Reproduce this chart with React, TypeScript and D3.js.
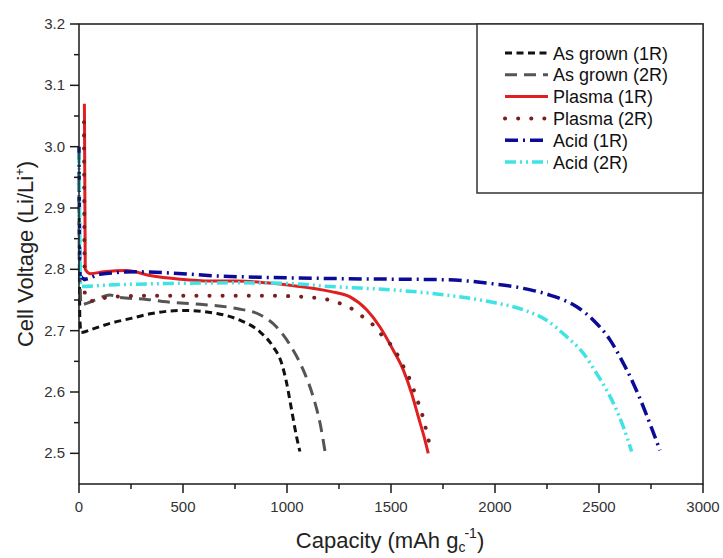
import React from "react";
import * as d3 from "d3";

const W = 723;
const H = 558;
const M = { left: 79, right: 703, top: 24, bottom: 484 };

const xTicks = [0, 500, 1000, 1500, 2000, 2500, 3000];
const xMinor = [250, 750, 1250, 1750, 2250, 2750];
const yTicks = [2.5, 2.6, 2.7, 2.8, 2.9, 3.0, 3.1, 3.2];
const yMinor = [2.55, 2.65, 2.75, 2.85, 2.95, 3.05, 3.15];

const asGrown1RCap = [0, 4, 10, 60, 150, 250, 350, 500, 663, 774, 870, 933, 974, 998, 1022, 1046, 1062];
const asGrown1RV = [2.94, 2.72, 2.697, 2.702, 2.712, 2.72, 2.728, 2.733, 2.728, 2.717, 2.698, 2.674, 2.647, 2.615, 2.571, 2.527, 2.503];

const asGrown2RCap = [2, 10, 40, 90, 149, 197, 325, 421, 582, 758, 870, 950, 1014, 1078, 1126, 1159, 1183];
const asGrown2RV = [2.83, 2.742, 2.745, 2.752, 2.758, 2.754, 2.751, 2.747, 2.743, 2.736, 2.726, 2.706, 2.677, 2.636, 2.592, 2.549, 2.503];

const plasma1RCap = [26, 30, 53, 120, 229, 341, 486, 630, 758, 900, 1014, 1207, 1303, 1383, 1447, 1511, 1559, 1599, 1631, 1663, 1679];
const plasma1RV = [3.07, 2.8, 2.793, 2.796, 2.798, 2.79, 2.784, 2.781, 2.781, 2.778, 2.774, 2.764, 2.755, 2.734, 2.706, 2.668, 2.636, 2.598, 2.56, 2.522, 2.5];

const plasma2RCap = [24, 28, 50, 150, 341, 600, 900, 1159, 1231, 1295, 1359, 1415, 1463, 1519, 1551, 1591, 1623, 1652, 1675, 1682];
const plasma2RV = [3.04, 2.76, 2.748, 2.755, 2.757, 2.757, 2.757, 2.753, 2.747, 2.739, 2.724, 2.709, 2.69, 2.668, 2.647, 2.62, 2.59, 2.561, 2.53, 2.52];

const acid1RCap = [0, 5, 29, 100, 277, 437, 678, 886, 1207, 1500, 1768, 1976, 2136, 2264, 2393, 2473, 2553, 2609, 2665, 2713, 2753, 2793];
const acid1RV = [3.0, 2.79, 2.784, 2.792, 2.796, 2.794, 2.789, 2.787, 2.785, 2.784, 2.783, 2.777, 2.769, 2.758, 2.739, 2.717, 2.685, 2.652, 2.614, 2.576, 2.541, 2.505];

const acid2RCap = [0, 8, 117, 437, 758, 1000, 1207, 1527, 1768, 1976, 2136, 2248, 2345, 2425, 2489, 2537, 2577, 2617, 2657];
const acid2RV = [2.99, 2.772, 2.774, 2.777, 2.778, 2.777, 2.772, 2.766, 2.758, 2.747, 2.734, 2.717, 2.69, 2.663, 2.63, 2.603, 2.576, 2.543, 2.503];

const seriesNames = ["As grown (1R)", "As grown (2R)", "Plasma (1R)", "Plasma (2R)", "Acid (1R)", "Acid (2R)"];

type Style = { color: string; width: number; dash: string; cap: "butt" | "round" };

const styles: Style[] = [
  { color: "#111111", width: 3, dash: "7,4.5", cap: "butt" },
  { color: "#555555", width: 3, dash: "12,7", cap: "butt" },
  { color: "#e02020", width: 3, dash: "", cap: "butt" },
  { color: "#7a1e1e", width: 4, dash: "0.1,13", cap: "round" },
  { color: "#0b0b98", width: 3.5, dash: "13,5,2,5", cap: "butt" },
  { color: "#3fe3e3", width: 3.5, dash: "11,4,2,4,2,4", cap: "butt" },
];

const seriesData: [number[], number[]][] = [
  [asGrown1RCap, asGrown1RV],
  [asGrown2RCap, asGrown2RV],
  [plasma1RCap, plasma1RV],
  [plasma2RCap, plasma2RV],
  [acid1RCap, acid1RV],
  [acid2RCap, acid2RV],
];

const FONT = "'Liberation Sans', Arial, Helvetica, sans-serif";

export default function App() {
  const x = d3.scaleLinear().domain([0, 3000]).range([M.left, M.right]);
  const y = d3.scaleLinear().domain([2.45, 3.2]).range([M.bottom, M.top]);
  const line = d3
    .line<[number, number]>()
    .x((d) => x(d[0]))
    .y((d) => y(d[1]))
    .curve(d3.curveMonotoneX);

  const legendX0 = 505;
  const legendX1 = 548;
  const legendY0 = 53;
  const legendStep = 21.8;

  return (
    <svg
      width={W}
      height={H}
      style={{ position: "absolute", left: 0, top: 0, background: "#fff" }}
      fontFamily={FONT}
    >
      <rect x={0} y={0} width={W} height={H} fill="#fff" />
      {/* curves */}
      {seriesData.map(([cs, vs], i) => {
        const pts = cs.map((c, j) => [c, vs[j]] as [number, number]);
        const s = styles[i];
        return (
          <path
            key={i}
            d={line(pts) || ""}
            fill="none"
            stroke={s.color}
            strokeWidth={s.width}
            strokeDasharray={s.dash || undefined}
            strokeLinecap={s.cap}
            strokeLinejoin="round"
          />
        );
      })}
      {/* frame */}
      <rect
        x={M.left}
        y={M.top}
        width={M.right - M.left}
        height={M.bottom - M.top}
        fill="none"
        stroke="#1a1a1a"
        strokeWidth={1.5}
      />
      {/* x ticks */}
      {xTicks.map((t) => (
        <g key={"xt" + t}>
          <line x1={x(t)} x2={x(t)} y1={M.bottom} y2={M.bottom + 9} stroke="#1a1a1a" strokeWidth={1.5} />
          <text x={x(t)} y={M.bottom + 28} textAnchor="middle" fontSize={15} fill="#333">
            {t}
          </text>
        </g>
      ))}
      {xMinor.map((t) => (
        <line key={"xm" + t} x1={x(t)} x2={x(t)} y1={M.bottom} y2={M.bottom + 5} stroke="#1a1a1a" strokeWidth={1.5} />
      ))}
      {/* y ticks */}
      {yTicks.map((t) => (
        <g key={"yt" + t}>
          <line x1={M.left - 9} x2={M.left} y1={y(t)} y2={y(t)} stroke="#1a1a1a" strokeWidth={1.5} />
          <text x={M.left - 14} y={y(t) + 5} textAnchor="end" fontSize={15} fill="#333">
            {t.toFixed(1)}
          </text>
        </g>
      ))}
      {yMinor.map((t) => (
        <line key={"ym" + t} x1={M.left - 5} x2={M.left} y1={y(t)} y2={y(t)} stroke="#1a1a1a" strokeWidth={1.5} />
      ))}
      {/* axis titles */}
      <text x={390} y={548} textAnchor="middle" fontSize={22} fill="#222">
        Capacity (mAh g
        <tspan fontSize={14} dy={4}>c</tspan>
        <tspan fontSize={14} dx={-1} dy={-14}>-1</tspan>
        <tspan dy={10}>)</tspan>
      </text>
      <text
        transform={`translate(33, ${(M.top + M.bottom) / 2}) rotate(-90)`}
        textAnchor="middle"
        fontSize={22}
        fill="#222"
      >
        Cell Voltage (Li/Li
        <tspan fontSize={13} dy={-9}>+</tspan>
        <tspan dy={9}>)</tspan>
      </text>
      {/* legend */}
      <rect x={477} y={M.top} width={M.right - 477} height={193 - M.top} fill="#fff" stroke="#333" strokeWidth={1.5} />
      {seriesNames.map((name, i) => {
        const s = styles[i];
        const yy = legendY0 + i * legendStep;
        return (
          <g key={"lg" + i}>
            <line
              x1={legendX0}
              x2={legendX1}
              y1={yy}
              y2={yy}
              stroke={s.color}
              strokeWidth={s.width}
              strokeDasharray={s.dash || undefined}
              strokeLinecap={s.cap}
            />
            <text x={553} y={yy + 6.5} fontSize={18} fill="#111">
              {name}
            </text>
          </g>
        );
      })}
    </svg>
  );
}
